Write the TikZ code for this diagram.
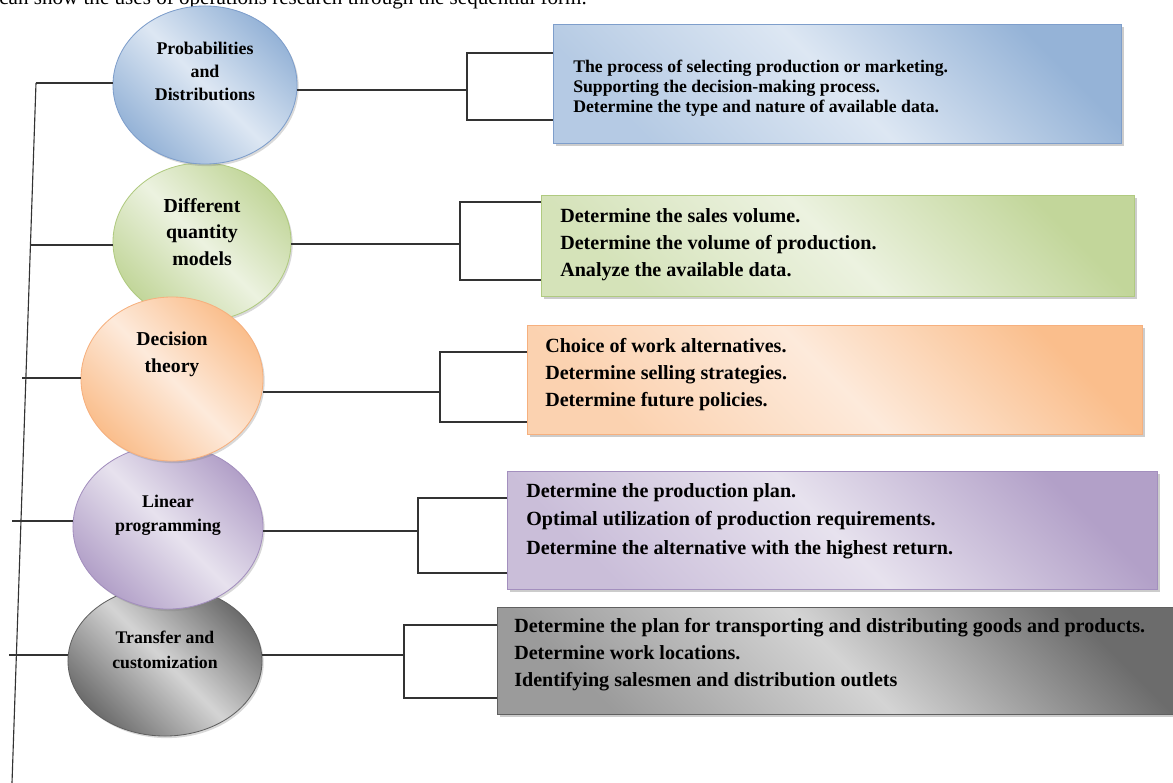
\documentclass[tikz,border=0pt]{standalone}
\usepackage{fontspec}
\setmainfont{Liberation Serif}
\usepackage{tikz}
\usetikzlibrary{shapes.geometric, shadows}
\definecolor{orbluedark}{RGB}{149,179,215}
\definecolor{orbluelight}{RGB}{221,231,243}
\definecolor{orblueline}{RGB}{126,158,203}
\definecolor{orgreendark}{RGB}{194,214,154}
\definecolor{orgreenlight}{RGB}{236,242,224}
\definecolor{orgreenline}{RGB}{176,202,128}
\definecolor{ororangedark}{RGB}{250,190,140}
\definecolor{ororangelight}{RGB}{253,234,219}
\definecolor{ororangeline}{RGB}{246,176,126}
\definecolor{orpurpledark}{RGB}{178,160,200}
\definecolor{orpurplelight}{RGB}{231,226,238}
\definecolor{orpurpleline}{RGB}{163,143,190}
\definecolor{orgraydark}{RGB}{108,108,108}
\definecolor{orgraylight}{RGB}{212,212,212}
\definecolor{orgrayline}{RGB}{96,96,96}

\begin{document}
\begin{tikzpicture}[x=0.025cm, y=-0.025cm,
  bubble/.style={ellipse, inner sep=0pt, draw=#1line, line width=0.6pt,
                 top color=#1dark, bottom color=#1dark, middle color=#1light,
                 shading angle=-45,
                 drop shadow={shadow xshift=1.2pt, shadow yshift=-1.5pt, opacity=0.3}},
  panel/.style={rectangle, anchor=north west, inner sep=0pt, draw=#1line, line width=0.6pt,
                top color=#1dark, bottom color=#1dark!55!#1light, middle color=#1light,
                shading angle=-45,
                drop shadow={shadow xshift=2pt, shadow yshift=-2pt, opacity=0.4}},
  bubtext/.style={align=center, inner sep=0pt},
  items/.style={align=left, anchor=west, inner sep=0pt,
                font=\fontsize{14.3}{19.2}\selectfont\bfseries},
  link/.style={line width=0.8pt, color=black!80}
]
  \clip (0,0) rectangle (1173,783);
  \node[anchor=base west, inner sep=0pt, font=\fontsize{15}{18}\selectfont] (cap) at (-1,4)
    {can show the uses of operations research through the sequential form.};

  % the five methods
  \node[bubble=orgray,   minimum width=4.85cm, minimum height=3.75cm] (c5) at (165,661) {};
  \node[bubble=orpurple, minimum width=4.75cm, minimum height=4.1cm]  (c4) at (168,527) {};
  \node[bubble=orgreen,  minimum width=4.45cm, minimum height=3.95cm] (c2) at (202,242) {};
  \node[bubble=orblue,   minimum width=4.6cm,  minimum height=3.95cm] (c1) at (205,85)  {};
  \node[bubble=ororange, minimum width=4.55cm, minimum height=4.1cm]  (c3) at (172,379) {};

  \node[bubtext, font=\fontsize{12.7}{16.4}\selectfont\bfseries] (t1) at (205,71) {Probabilities\\and\\Distributions};
  \node[bubtext, font=\fontsize{14.1}{18.9}\selectfont\bfseries] (t2) at (202,232) {Different\\quantity\\models};
  \node[bubtext, font=\fontsize{14}{19.2}\selectfont\bfseries]   (t3) at (172,354) {Decision\\theory};
  \node[bubtext, font=\fontsize{12.7}{17}\selectfont\bfseries]   (t4) at (168,515) {Linear\\programming};
  \node[bubtext, font=\fontsize{12.6}{17.8}\selectfont\bfseries] (t5) at (165,650) {Transfer and\\customization};

  % the uses
  \node[panel=orblue,   minimum width=14.2cm,  minimum height=2.975cm] (b1) at (553,24)  {};
  \node[panel=orgreen,  minimum width=14.825cm, minimum height=2.525cm] (b2) at (541,195) {};
  \node[panel=ororange, minimum width=15.375cm, minimum height=2.725cm] (b3) at (527,325) {};
  \node[panel=orpurple, minimum width=16.25cm, minimum height=2.95cm]  (b4) at (507,471) {};
  \node[panel=orgray,   minimum width=17.2cm,  minimum height=2.675cm] (b5) at (497,607) {};

  \node[items, font=\fontsize{12.6}{14.4}\selectfont\bfseries] (i1) at (573,88)
    {The process of selecting production or marketing.\\
     Supporting the decision-making process.\\
     Determine the type and nature of available data.};
  \node[items] (i2) at (560,244.5)
    {Determine the sales volume.\\
     Determine the volume of production.\\
     Analyze the available data.};
  \node[items] (i3) at (545,374.5)
    {Choice of work alternatives.\\
     Determine selling strategies.\\
     Determine future policies.};
  \node[items, font=\fontsize{14.3}{20.3}\selectfont\bfseries] (i4) at (526,521)
    {Determine the production plan.\\
     Optimal utilization of production requirements.\\
     Determine the alternative with the highest return.};
  \node[items] (i5) at (514,655)
    {Determine the plan for transporting and distributing goods and products.\\
     Determine work locations.\\
     Identifying salesmen and distribution outlets};

  % trunk on the left
  \coordinate (top) at (36,83);
  \coordinate (bot) at (12,783);
  \coordinate (s2) at (31,245);
  \coordinate (s3) at (22,378);
  \coordinate (s4) at (12,521);
  \coordinate (s5) at (9,655);
  \draw[link] (top) -- (bot);
  \draw[link] (top) -- (top -| c1.west);
  \draw[link] (s2) -- (s2 -| c2.west);
  \draw[link] (s3) -- (s3 -| c3.west);
  \draw[link] (s4) -- (s4 -| c4.west);
  \draw[link] (s5) -- (s5 -| c5.west);

  % brackets on the right
  \coordinate (k1) at (467,90);  \coordinate (u1) at (467,53);  \coordinate (d1) at (467,120);
  \coordinate (k2) at (460,244); \coordinate (u2) at (460,202); \coordinate (d2) at (460,280);
  \coordinate (k3) at (440,392); \coordinate (u3) at (440,352); \coordinate (d3) at (440,422);
  \coordinate (k4) at (418,531); \coordinate (u4) at (418,498); \coordinate (d4) at (418,573);
  \coordinate (k5) at (404,655); \coordinate (u5) at (404,625); \coordinate (d5) at (404,698);
  \draw[link] (c1.east |- k1) -- (k1);
  \draw[link] (b1.west |- u1) -- (u1) -- (d1) -- (b1.west |- d1);
  \draw[link] (c2.east |- k2) -- (k2);
  \draw[link] (b2.west |- u2) -- (u2) -- (d2) -- (b2.west |- d2);
  \draw[link] (c3.east |- k3) -- (k3);
  \draw[link] (b3.west |- u3) -- (u3) -- (d3) -- (b3.west |- d3);
  \draw[link] (c4.east |- k4) -- (k4);
  \draw[link] (b4.west |- u4) -- (u4) -- (d4) -- (b4.west |- d4);
  \draw[link] (c5.east |- k5) -- (k5);
  \draw[link] (b5.west |- u5) -- (u5) -- (d5) -- (b5.west |- d5);
\end{tikzpicture}
\end{document}
